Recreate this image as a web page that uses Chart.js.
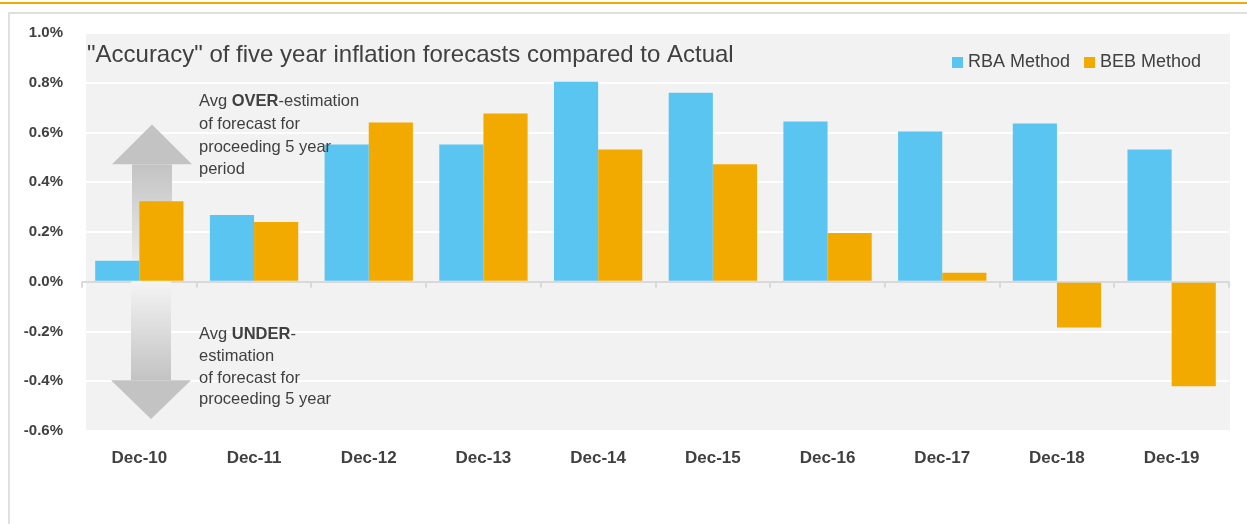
<!DOCTYPE html>
<html>
    <head>
        <title>Inflation forecast accuracy</title>
        <script src="https://cdn.jsdelivr.net/npm/chart.js@4.4.1/dist/chart.umd.min.js"></script>
        <style>
            body { margin: 0; background: #fff; }
            #topline { position: absolute; left: 0; top: 2px; width: 1247px; height: 2px; background: #f2a900; }
            #frame { position: absolute; left: 8px; top: 12px; width: 1260px; height: 540px; border-left: 2px solid #e0e0e0; border-top: 2px solid #e0e0e0; }
            #chart { position: absolute; left: 0; top: 0; }
        </style>
    </head>
    <body>
        <div id="topline"></div>
        <div id="frame"></div>
        <canvas id="chart" width="1247" height="524"></canvas>
        <script>
        const categories = ['Dec-10', 'Dec-11', 'Dec-12', 'Dec-13', 'Dec-14', 'Dec-15', 'Dec-16', 'Dec-17', 'Dec-18', 'Dec-19'];
        const rbaValues = [0.084, 0.268, 0.552, 0.552, 0.804, 0.760, 0.644, 0.604, 0.636, 0.532];
        const bebValues = [0.324, 0.240, 0.640, 0.676, 0.532, 0.472, 0.196, 0.036, -0.184, -0.420];
        const yMin = -0.6;
        const yMax = 1.0;
        const yStep = 0.2;

        const FONT = "'Liberation Sans', Arial, sans-serif";
        const TEXT = '#404040';

        // plot background, zero-line ticks and the two arrows
        const backdrop = {
            id: 'backdrop',
            beforeDraw(chart) {
                const { ctx, chartArea: a } = chart;
                ctx.save();
                ctx.fillStyle = '#f2f2f2';
                ctx.fillRect(a.left + 4, a.top, a.right - a.left - 3, a.bottom - a.top);
                ctx.restore();
            },
            beforeDatasetsDraw(chart) {
                const { ctx, chartArea: a, scales: { x, y } } = chart;
                const y0 = y.getPixelForValue(0);
                const cx = a.left + 70;

                ctx.save();
                // up arrow
                const upTip = y.getPixelForValue(0.632);
                const upBase = y.getPixelForValue(0.472);
                let g = ctx.createLinearGradient(0, upBase, 0, y0);
                g.addColorStop(0, '#c3c3c3');
                g.addColorStop(1, '#f4f4f4');
                ctx.fillStyle = g;
                ctx.fillRect(cx - 20, upBase, 40, y0 - upBase);
                ctx.fillStyle = '#c3c3c3';
                ctx.beginPath();
                ctx.moveTo(cx, upTip);
                ctx.lineTo(cx + 40, upBase);
                ctx.lineTo(cx - 40, upBase);
                ctx.closePath();
                ctx.fill();

                // down arrow
                const dnBase = y.getPixelForValue(-0.396);
                const dnTip = y.getPixelForValue(-0.552);
                g = ctx.createLinearGradient(0, y0, 0, dnBase);
                g.addColorStop(0, '#f4f4f4');
                g.addColorStop(1, '#c3c3c3');
                ctx.fillStyle = g;
                ctx.fillRect(cx - 21, y0, 40, dnBase - y0);
                ctx.fillStyle = '#c3c3c3';
                ctx.beginPath();
                ctx.moveTo(cx - 1, dnTip);
                ctx.lineTo(cx + 39, dnBase);
                ctx.lineTo(cx - 41, dnBase);
                ctx.closePath();
                ctx.fill();

                // little ticks under the zero line at category edges
                const w = (a.right - a.left) / categories.length;
                ctx.strokeStyle = '#d9d9d9';
                ctx.lineWidth = 2;
                for (let i = 0; i <= categories.length; i++) {
                    const px = Math.round(a.left + i * w);
                    ctx.beginPath();
                    ctx.moveTo(px, y0);
                    ctx.lineTo(px, y0 + 6);
                    ctx.stroke();
                }
                ctx.restore();
            },
            afterDatasetsDraw(chart) {
                const { ctx, chartArea: a, scales: { y } } = chart;
                const y0 = y.getPixelForValue(0);
                ctx.save();
                ctx.fillStyle = TEXT;
                ctx.textBaseline = 'middle';

                // title
                ctx.font = '24px ' + FONT;
                ctx.fillText('"Accuracy" of five year inflation forecasts compared to Actual', a.left + 5, a.top + 22);

                // legend
                ctx.font = '18px ' + FONT;
                const ly = a.top + 29;
                let lx = a.left + 870;
                chart.data.datasets.forEach(ds => {
                    ctx.fillStyle = ds.backgroundColor;
                    ctx.fillRect(lx, ly - 5, 11, 11);
                    ctx.fillStyle = TEXT;
                    ctx.fillText(ds.label, lx + 16, ly);
                    lx += 16 + ctx.measureText(ds.label).width + 14;
                });

                // annotation text, mixed bold
                const tx = a.left + 117;
                const write = (parts, py) => {
                    let px = tx;
                    parts.forEach(([s, bold]) => {
                        ctx.font = (bold ? 'bold ' : '') + '16.5px ' + FONT;
                        ctx.fillText(s, px, py);
                        px += ctx.measureText(s).width;
                    });
                };
                const over = [
                    [['Avg ', false], ['OVER', true], ['-estimation', false]],
                    [['of forecast for', false]],
                    [['proceeding 5 year', false]],
                    [['period', false]]
                ];
                over.forEach((ln, i) => write(ln, y0 - 180 + i * 22.7));
                const under = [
                    [['Avg ', false], ['UNDER', true], ['-', false]],
                    [['estimation', false]],
                    [['of forecast for', false]],
                    [['proceeding 5 year', false]]
                ];
                under.forEach((ln, i) => write(ln, y0 + 53 + i * 21.7));
                ctx.restore();
            }
        };

        new Chart(document.getElementById('chart').getContext('2d'), {
            type: 'bar',
            data: {
                labels: categories,
                datasets: [{
                    label: 'RBA Method',
                    data: rbaValues,
                    backgroundColor: '#5bc5f1'
                }, {
                    label: 'BEB Method',
                    data: bebValues,
                    backgroundColor: '#f2aa00'
                }]
            },
            options: {
                responsive: false,
                animation: false,
                layout: { padding: { left: 10, top: 33, right: 18, bottom: 33 } },
                datasets: { bar: { categoryPercentage: 0.77, barPercentage: 1.0, borderWidth: 0 } },
                plugins: {
                    legend: { display: false },
                    tooltip: { enabled: false }
                },
                scales: {
                    x: {
                        grid: { display: false },
                        border: { display: false },
                        ticks: { color: TEXT, font: { family: FONT, size: 17, weight: 'bold' }, padding: 9 },
                        afterFit: s => { s.height = 60; }
                    },
                    y: {
                        min: yMin,
                        max: yMax,
                        grid: {
                            drawTicks: false,
                            lineWidth: 2,
                            color: c => Math.abs(c.tick.value) < 1e-9 ? '#d9d9d9' : '#ffffff'
                        },
                        border: { display: false },
                        ticks: {
                            stepSize: yStep,
                            padding: 19,
                            color: TEXT,
                            font: { family: FONT, size: 15, weight: 'bold' },
                            callback: v => (Math.round(v * 10) / 10).toFixed(1) + '%'
                        },
                        afterFit: s => { s.width = 72; }
                    }
                }
            },
            plugins: [backdrop]
        });
        </script>
    </body>
</html>
